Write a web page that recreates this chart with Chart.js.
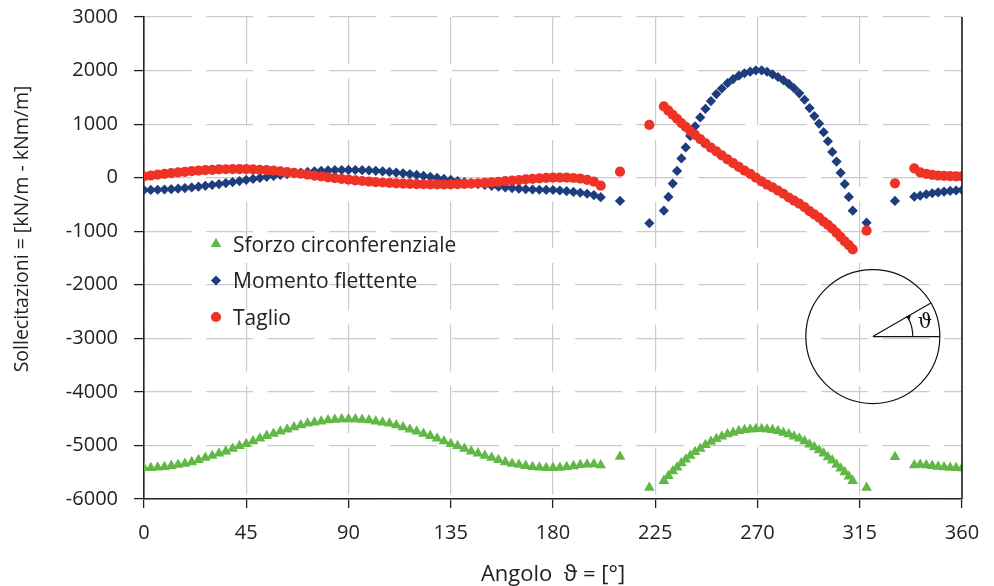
<!DOCTYPE html>
<html>
<head>
<meta charset="utf-8">
<title>Sollecitazioni nel rivestimento</title>
<script src="https://cdn.jsdelivr.net/npm/chart.js@4.4.0/dist/chart.umd.min.js"></script>
<style>
  body { margin: 0; background: #fff; }
  #box { width: 994px; height: 586px; }
</style>
</head>
<body>
<div id="box"><canvas id="myChart"></canvas></div>
<script>
'use strict';

// angolo in gradi di ogni nodo (tre tratti + nodi isolati ai giunti)
let angoli = [
  0, 3, 6, 9, 12, 15, 18, 21, 24, 27, 30, 33, 36, 39, 42, 45, 48, 51, 54, 57, 60,
  63, 66, 69, 72, 75, 78, 81, 84, 87, 90, 93, 96, 99, 102, 105, 108, 111, 114, 117,
  120, 123, 126, 129, 132, 135, 138, 141, 144, 147, 150, 153, 156, 159, 162, 165,
  168, 171, 174, 177, 180, 183, 186, 189, 192, 195, 198, 201,
  209.5, 222.4,
  228.8, 230.8, 232.7, 234.6, 236.5, 238.4, 240.4, 242.5, 244.8, 247.1, 249.5, 251.9,
  254.3, 256.8, 259.3, 261.8, 264.3, 266.8, 269.3, 271.8, 274.2, 276.6, 279.0, 281.4,
  283.8, 286.1, 288.4, 290.7, 292.9, 295.0, 297.1, 299.1, 301.0, 302.9, 304.8, 306.6,
  308.4, 310.2, 311.9,
  318, 330.5,
  339, 341.6, 344.3, 346.9, 349.5, 352.1, 354.8, 357.4, 360
];

let sforzo = [
  -5420, -5420, -5410, -5400, -5380, -5360, -5340, -5310, -5270, -5230, -5190, -5150,
  -5110, -5060, -5010, -4970, -4920, -4870, -4820, -4780, -4740, -4700, -4660, -4620,
  -4590, -4570, -4550, -4530, -4520, -4510, -4510, -4510, -4520, -4530, -4550, -4570,
  -4590, -4620, -4660, -4700, -4740, -4780, -4820, -4870, -4920, -4970, -5010, -5060,
  -5110, -5150, -5190, -5230, -5270, -5310, -5340, -5360, -5380, -5400, -5410, -5420,
  -5420, -5415, -5400, -5385, -5365, -5355, -5350, -5370,
  -5210, -5790,
  -5660, -5570, -5480, -5410, -5330, -5260, -5190, -5120, -5060, -4990, -4930, -4880,
  -4830, -4790, -4760, -4730, -4710, -4700, -4690, -4690, -4700, -4710, -4730, -4760,
  -4790, -4830, -4870, -4920, -4980, -5030, -5090, -5150, -5220, -5280, -5360, -5430,
  -5500, -5580, -5660,
  -5790, -5215,
  -5370, -5360, -5370, -5380, -5395, -5405, -5415, -5420, -5425
];

let momento = [
  -230, -229, -226, -221, -214, -205, -194, -182, -168, -153, -137, -119, -101, -82,
  -63, -43, -23, -4, 15, 33, 51, 67, 82, 96, 108, 119, 128, 135, 140, 143, 144,
  143, 140, 135, 128, 119, 108, 96, 82, 67, 51, 33, 15, -4, -23, -43, -63, -82, -101,
  -119, -137, -153, -168, -182, -194, -205, -214, -221, -226, -229, -230,
  -240, -252, -266, -282, -300, -325, -365,
  -435, -850,
  -616, -360, -110, 125, 360, 565, 780, 960, 1125, 1285, 1430, 1560, 1665, 1765,
  1840, 1905, 1950, 1980, 2005, 2005, 1978, 1930, 1880, 1820, 1750, 1670, 1575,
  1455, 1300, 1150, 1010, 850, 680, 480, 300, 90, -120, -360, -616,
  -840, -435,
  -355, -336, -310, -291, -273, -261, -248, -240, -230
];

let taglio = [
  26, 40, 55, 70, 84, 97, 110, 121, 131, 140, 147, 153, 157, 159, 160, 158, 154, 148,
  140, 130, 118, 104, 89, 73, 56, 39, 22, 5, -11, -25, -38,
  -50, -62, -72, -82, -90, -98, -105, -111, -116, -120, -123, -125, -126, -126, -124,
  -121, -117, -111, -104, -96, -87, -77, -66, -55, -44, -33, -22, -13, -5, 0,
  2, 0, -6, -18, -40, -75, -150,
  112, 985,
  1330, 1250, 1175, 1100, 1020, 950, 870, 800, 720, 640, 560, 490, 415, 340, 270,
  200, 130, 70, 0, -70, -130, -180, -240, -300, -370, -430, -485, -550, -625, -685,
  -745, -820, -880, -950, -1030, -1110, -1190, -1260, -1340,
  -990, -105,
  175, 100, 70, 52, 40, 33, 28, 25, 26
];

let xTicks = [0, 45, 90, 135, 180, 225, 270, 315, 360];
let yTicks = [-6000, -5000, -4000, -3000, -2000, -1000, 0, 1000, 2000, 3000];

let nomi = ['Sforzo circonferenziale', 'Momento flettente', 'Taglio'];
let titoloX = 'Angolo  \u03D1 = [\u00B0]';
let titoloY = 'Sollecitazioni = [kN/m - kNm/m]';

let colori = ['#62b846', '#1d3d7c', '#ee3326'];
let simboli = ['triangle', 'rectRot', 'circle'];
let raggi = [6.2, 5.1, 5.1];
let testo = '#222';
let font = '"Open Sans"';

function punti(valori) {
  return angoli.map((a, i) => ({ x: a, y: valori[i] }));
}

function serie(i, valori, ordine) {
  return {
    label: nomi[i],
    data: punti(valori),
    backgroundColor: colori[i],
    borderColor: colori[i],
    pointStyle: simboli[i],
    pointRadius: raggi[i],
    pointBorderWidth: 0,
    showLine: false,
    clip: 0,
    order: ordine
  };
}

function disegnaSimbolo(ctx, stile, x, y, r, colore) {
  ctx.fillStyle = colore;
  ctx.beginPath();
  if (stile === 'circle') {
    ctx.arc(x, y, r, 0, Math.PI * 2);
  } else if (stile === 'rectRot') {
    ctx.moveTo(x - r, y);
    ctx.lineTo(x, y - r);
    ctx.lineTo(x + r, y);
    ctx.lineTo(x, y + r);
  } else {
    ctx.moveTo(x, y - r);
    ctx.lineTo(x + r * 0.866, y + r / 2);
    ctx.lineTo(x - r * 0.866, y + r / 2);
  }
  ctx.closePath();
  ctx.fill();
}

// bordo destro, titolo verticale, legenda interna e schema della sezione
let decorazioni = {
  id: 'decorazioni',
  afterDraw(chart) {
    let ctx = chart.ctx;
    let area = chart.chartArea;
    let w = area.right - area.left;
    let h = area.bottom - area.top;

    ctx.save();
    ctx.strokeStyle = testo;
    ctx.lineWidth = 1.6;
    ctx.beginPath();
    ctx.moveTo(area.right, area.top);
    ctx.lineTo(area.right, area.bottom);
    ctx.stroke();

    ctx.fillStyle = testo;
    ctx.font = '19.5px ' + font;
    ctx.textAlign = 'center';
    ctx.textBaseline = 'middle';
    ctx.translate(22, 229);
    ctx.rotate(-Math.PI / 2);
    ctx.fillText(titoloY, 0, 0);
    ctx.restore();

    // legenda
    ctx.save();
    ctx.font = '21px ' + font;
    ctx.textAlign = 'left';
    ctx.textBaseline = 'middle';
    chart.data.datasets.forEach((ds, i) => {
      let y = area.top + 227 + i * 36.5;
      disegnaSimbolo(ctx, ds.pointStyle, area.left + 72, y, ds.pointRadius, ds.backgroundColor);
      ctx.fillStyle = testo;
      ctx.fillText(ds.label, area.left + 89, y + 2);
    });
    ctx.restore();

    // sezione circolare con l'angolo
    let cx = area.left + 0.891 * w;
    let cy = area.top + 0.663 * h;
    let a = -Math.PI / 6;
    ctx.save();
    ctx.strokeStyle = '#111';
    ctx.lineWidth = 1.2;
    ctx.beginPath();
    ctx.arc(cx, cy, 67, 0, Math.PI * 2);
    ctx.stroke();
    ctx.beginPath();
    ctx.moveTo(cx, cy);
    ctx.lineTo(cx + 67, cy);
    ctx.moveTo(cx, cy);
    ctx.lineTo(cx + 67 * Math.cos(a), cy + 67 * Math.sin(a));
    ctx.stroke();
    ctx.beginPath();
    ctx.arc(cx, cy, 40, 0, a, true);
    ctx.stroke();
    // punta della freccia sull'arco
    let px = cx + 40 * Math.cos(a);
    let py = cy + 40 * Math.sin(a);
    ctx.fillStyle = '#111';
    ctx.beginPath();
    ctx.moveTo(px - 1.5, py - 0.5);
    ctx.lineTo(px + 3.5, py - 1);
    ctx.lineTo(px + 1.5, py + 4);
    ctx.closePath();
    ctx.fill();
    ctx.font = '20px "DejaVu Serif"';
    ctx.textAlign = 'center';
    ctx.textBaseline = 'middle';
    ctx.fillText('\u03D1', cx + 52, cy - 14);
    ctx.restore();
  }
};

let ctx = document.getElementById('myChart').getContext('2d');

let myChart = new Chart(ctx, {
  type: 'scatter',
  data: {
    datasets: [
      serie(0, sforzo, 3),
      serie(1, momento, 2),
      serie(2, taglio, 1)
    ]
  },
  options: {
    responsive: true,
    maintainAspectRatio: false,
    animation: false,
    layout: { padding: { top: 17, right: 32, bottom: 0, left: 0 } },
    plugins: {
      legend: { display: false },
      tooltip: { enabled: false }
    },
    scales: {
      x: {
        type: 'linear',
        min: 0,
        max: 360,
        afterBuildTicks: (s) => { s.ticks = xTicks.map(v => ({ value: v })); },
        afterFit: (s) => { s.height = 87; s.paddingLeft = 0; s.paddingRight = 0; },
        grid: { color: '#cbcbcb', lineWidth: 1.2, tickLength: 9, tickColor: testo, tickWidth: 1.3 },
        border: { color: testo, width: 1.6, dash: [47, 14.5] },
        ticks: {
          padding: 13,
          color: testo,
          maxRotation: 0,
          font: { family: font, size: 20 },
          callback: (v) => String(v)
        },
        title: {
          display: true,
          text: titoloX,
          color: testo,
          font: { family: font, size: 22 },
          padding: { top: 0, bottom: -2 }
        }
      },
      y: {
        type: 'linear',
        min: -6000,
        max: 3000,
        afterBuildTicks: (s) => { s.ticks = yTicks.map(v => ({ value: v })); },
        afterFit: (s) => { s.width = 144; s.paddingTop = 0; s.paddingBottom = 0; },
        grid: { color: '#cbcbcb', lineWidth: 1.2, tickLength: 10, tickColor: testo, tickWidth: 1.3 },
        border: { color: testo, width: 1.6, dash: [47, 14.5] },
        ticks: {
          padding: 16,
          color: testo,
          font: { family: font, size: 20 },
          callback: (v) => String(v)
        }
      }
    }
  },
  plugins: [decorazioni]
});
</script>
</body>
</html>
